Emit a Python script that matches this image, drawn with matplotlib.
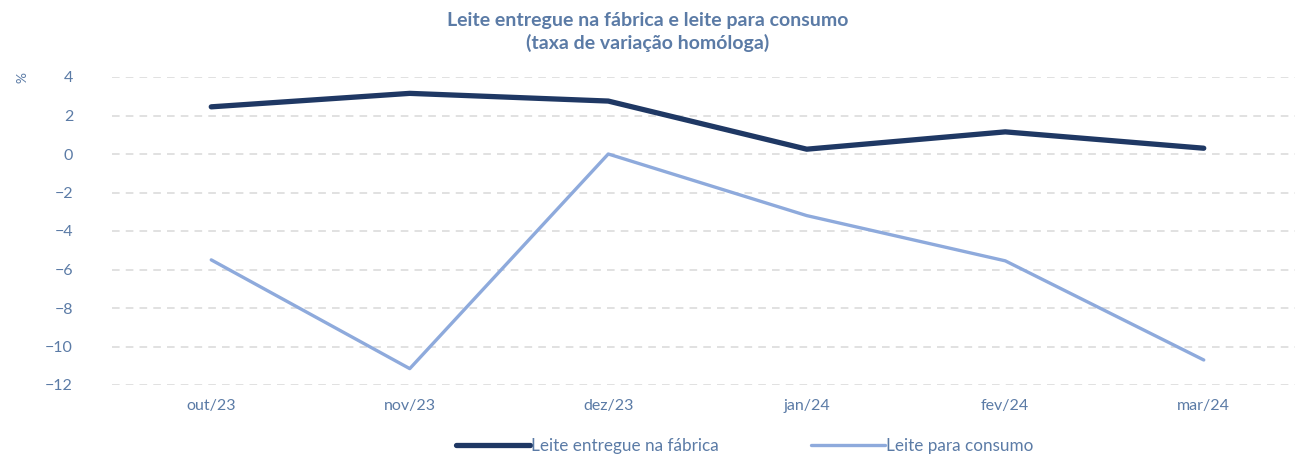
import matplotlib
matplotlib.use('Agg')
import matplotlib.pyplot as plt

months = ['out/23', 'nov/23', 'dez/23', 'jan/24', 'fev/24', 'mar/24']
fabrica = [2.45, 3.15, 2.75, 0.25, 1.15, 0.3]
consumo = [-5.5, -11.15, 0.0, -3.2, -5.55, -10.7]
yticks = [4, 2, 0, -2, -4, -6, -8, -10, -12]

text_col = '#5b7ba6'
dark = '#1f3864'
light = '#8eaadc'

plt.rcParams['font.family'] = ['Lato', 'DejaVu Sans']

fig = plt.figure(figsize=(12.95, 4.54), dpi=100)
ax = fig.add_axes([112 / 1295, 1 - 385 / 454, (1303 - 112) / 1295, (385 - 77) / 454])

x = list(range(len(months)))
ax.plot(x, fabrica, color=dark, lw=3.8, solid_capstyle='round', label='Leite entregue na fábrica')
ax.plot(x, consumo, color=light, lw=2.4, solid_capstyle='round', label='Leite para consumo')

ax.set_xlim(-0.5, 5.5)
ax.set_ylim(-12, 4)
ax.set_yticks(yticks)
ax.set_xticks(x)
ax.set_xticklabels(months)
ax.grid(axis='y', color='#d9d9d9', ls=(0, (5, 4)), lw=1.1)
ax.set_axisbelow(True)
for s in ax.spines.values():
    s.set_visible(False)
ax.tick_params(length=0, colors=text_col, labelsize=11.5)
ax.tick_params(axis='y', pad=28)
ax.tick_params(axis='x', pad=10)

fig.text(0.5, 1 - 32 / 454, 'Leite entregue na fábrica e leite para consumo\n(taxa de variação homóloga)',
         ha='center', va='center', color=text_col, fontsize=14, fontweight='bold', linespacing=1.3)
fig.text(18 / 1295, 1 - 78 / 454, '%', rotation=-90, ha='center', va='center', color=text_col, fontsize=10)

leg = fig.legend(loc='center', bbox_to_anchor=(745 / 1295, 1 - 446 / 454), ncol=2, frameon=False,
                 fontsize=12.3, handlelength=4.3, handletextpad=0.1, columnspacing=5.4)
for t in leg.get_texts():
    t.set_color(text_col)

fig.savefig('out.png', dpi=100)
